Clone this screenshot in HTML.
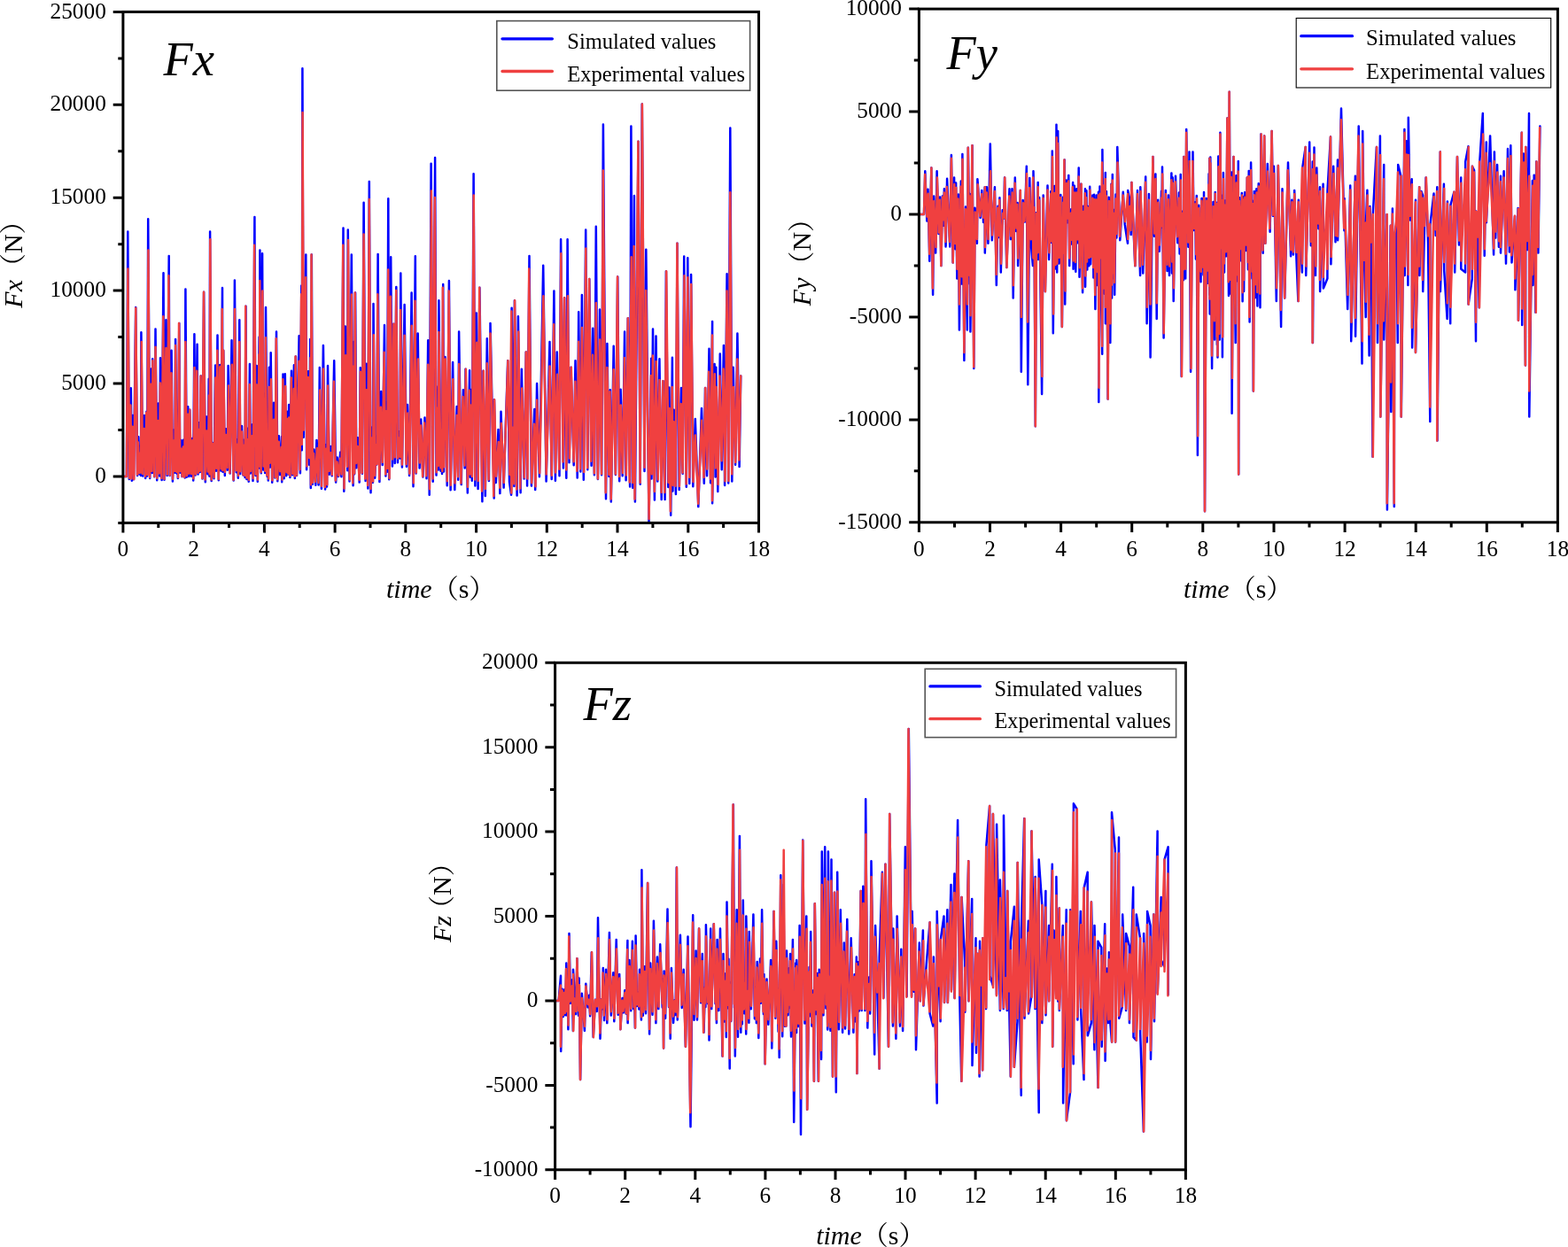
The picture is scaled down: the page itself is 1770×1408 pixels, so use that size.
<!DOCTYPE html><html><head><meta charset="utf-8"><title>Fx Fy Fz</title><style>html,body{margin:0;padding:0;background:#fff;overflow:hidden}svg{display:block}</style></head><body>
<svg width="1770" height="1408" viewBox="0 0 1770 1408">
<rect width="1770" height="1408" fill="#fff"/>
<clipPath id="clipx"><rect x="138.9" y="13.4" width="717.6" height="577.0"/></clipPath>
<g clip-path="url(#clipx)" fill="none" stroke-linejoin="round" stroke-linecap="round">
<path stroke="#0000FF" stroke-width="2.5" d="M138.9 537.9L142.9 537.9L144.3 261.4L145.8 541.1L147.8 438.2L148.8 542.7L149.9 469.1L150.9 541.2L153.2 346.9L155.1 536.9L156.2 493.3L157.6 535.5L158.5 503.6L159.0 537.1L159.4 375.3L161.2 537.6L163.0 468.9L164.2 540.0L165.4 464.8L166.2 537.5L167.2 247.2L169.2 539.9L170.7 416.4L171.8 533.9L172.2 405.3L174.2 538.3L175.5 371.5L177.2 542.2L178.7 455.4L180.2 537.5L181.0 404.2L182.6 541.9L184.5 308.2L185.5 541.8L187.4 361.2L188.6 537.1L190.7 289.0L191.6 537.1L193.6 395.7L194.9 543.4L196.6 485.3L197.5 533.8L198.1 383.0L199.7 534.7L200.3 497.8L200.8 540.1L202.3 365.0L203.2 533.7L204.3 496.9L205.6 538.1L206.9 496.8L208.7 539.5L209.4 326.6L210.7 538.8L212.2 459.3L213.2 538.0L214.2 462.8L215.8 537.7L217.0 495.1L218.2 542.4L219.4 377.2L220.6 536.4L222.6 388.8L223.5 535.6L224.6 477.3L225.8 533.1L226.8 424.4L228.5 540.6L230.1 329.7L231.8 544.2L233.0 470.5L234.4 535.3L235.7 427.8L236.4 537.8L237.1 261.4L238.7 542.9L239.9 500.1L241.5 540.2L243.1 412.4L244.0 531.8L245.5 378.4L246.8 542.2L248.1 411.9L249.4 531.6L251.0 324.9L251.5 532.8L252.2 395.7L253.8 536.9L254.9 484.2L256.7 530.7L257.6 412.9L259.7 534.6L261.5 384.2L263.7 542.4L264.9 316.5L266.7 533.2L267.8 496.3L268.8 539.8L270.3 361.2L271.2 535.1L273.0 481.0L274.5 536.4L275.7 496.5L276.6 539.1L277.5 345.8L278.4 541.1L280.4 483.5L280.7 543.7L281.9 411.0L282.7 534.4L284.6 479.6L285.5 543.1L287.4 244.9L288.5 537.0L289.8 412.9L290.8 543.7L292.6 380.4L292.9 528.5L293.4 282.5L294.8 534.2L296.1 286.3L297.1 530.5L299.1 444.3L299.1 534.1L300.0 346.9L301.7 538.0L302.8 478.9L302.8 542.4L303.9 414.8L304.8 527.5L305.7 398.3L307.2 544.8L309.0 454.8L310.4 539.6L312.0 374.6L313.3 543.2L314.9 492.2L316.1 536.1L318.1 493.0L318.2 544.2L319.5 422.5L320.7 540.2L321.8 422.3L323.2 537.3L324.4 464.7L325.6 535.5L326.1 457.0L327.4 539.0L329.0 418.8L330.1 536.3L331.9 412.2L332.8 540.1L333.9 402.6L335.0 536.9L337.6 379.2L338.9 534.3L340.3 322.4L340.8 508.3L341.4 77.3L342.7 493.8L345.3 287.5L346.1 530.3L347.9 419.2L349.1 524.8L350.2 383.0L350.8 550.9L351.8 287.5L352.9 546.8L354.4 507.4L356.3 547.8L357.4 497.1L359.6 547.5L360.8 415.0L362.9 551.7L364.9 389.9L367.1 552.4L368.7 502.1L369.0 549.5L370.0 412.9L371.7 535.7L373.2 504.0L374.7 537.3L377.2 407.2L379.1 544.6L380.7 516.4L382.0 538.1L384.3 510.4L385.4 538.3L387.5 257.6L388.3 554.8L389.8 368.4L392.2 531.3L392.8 259.5L394.5 543.4L396.8 287.5L398.6 548.2L399.9 385.7L400.1 535.3L401.1 330.5L402.3 528.3L403.8 494.3L405.7 544.6L406.8 415.3L408.9 534.8L410.6 228.8L412.6 542.9L413.8 410.7L415.4 551.5L416.8 205.0L418.5 556.3L420.5 482.3L420.9 544.7L421.5 343.1L423.2 539.7L424.7 492.6L425.2 524.4L426.6 287.1L428.4 544.1L430.2 442.0L431.7 525.1L434.0 366.9L435.4 537.6L436.5 454.2L437.0 532.8L438.3 224.2L439.2 541.2L441.2 290.2L442.9 526.4L444.3 365.7L445.7 522.9L447.3 324.0L448.9 522.2L450.8 487.0L451.6 517.4L452.3 308.6L453.9 527.6L456.6 343.9L458.9 526.7L459.9 456.9L462.1 536.9L464.6 330.5L466.5 549.3L468.8 289.3L469.6 534.6L471.7 376.5L473.6 528.4L475.2 473.4L477.4 538.4L479.5 471.4L481.5 540.3L483.2 384.2L484.7 558.7L486.6 184.7L488.7 543.7L491.1 178.1L492.5 536.6L494.7 436.2L494.9 530.4L495.4 339.3L497.5 531.7L498.4 476.1L499.0 535.0L500.2 320.9L501.0 532.6L502.4 403.1L504.7 548.2L506.9 317.0L508.6 553.2L511.1 409.1L513.3 553.0L515.7 459.0L517.2 541.7L518.1 374.6L520.7 547.1L522.9 440.3L524.7 528.5L525.5 416.8L527.8 556.5L530.1 418.2L530.8 538.7L531.0 439.8L532.8 542.8L534.6 196.2L536.4 548.6L537.8 353.5L539.6 552.0L541.4 324.7L544.4 566.2L545.5 418.7L547.8 560.0L549.8 382.2L551.9 543.0L553.5 365.0L557.7 562.5L557.9 451.3L559.8 544.9L562.5 485.0L564.4 557.1L565.5 464.7L568.6 550.6L573.2 407.2L575.0 544.1L577.1 558.7L577.6 347.7L579.6 466.6L580.4 549.1L580.9 339.3L583.6 559.4L584.9 357.3L587.6 556.2L588.8 416.8L591.6 540.5L593.8 397.6L595.1 548.5L597.5 289.0L599.9 548.6L603.3 462.1L604.2 552.9L606.1 432.9L608.9 538.3L613.2 299.8L616.6 543.4L620.5 386.1L622.7 540.9L625.4 328.5L626.9 542.8L628.8 397.6L631.5 537.2L633.1 270.2L635.9 528.4L637.1 336.2L639.3 539.8L640.6 270.2L642.5 522.3L644.5 414.8L647.7 525.3L649.5 407.2L651.7 539.5L653.2 352.3L655.3 532.5L656.9 333.1L658.8 541.7L661.2 259.5L663.3 530.3L665.3 315.1L667.6 525.8L669.2 370.7L670.9 536.2L672.8 255.7L674.9 541.0L677.0 349.6L679.1 536.2L680.9 140.6L684.0 563.3L685.4 388.0L687.4 537.9L688.8 440.3L689.8 566.4L692.7 390.7L694.9 536.0L697.2 312.4L699.2 543.3L700.6 439.8L702.7 537.3L705.1 374.6L706.6 542.2L708.8 359.2L711.1 549.5L712.4 142.5L714.2 550.7L715.9 221.1L716.9 566.4L720.5 159.7L722.7 546.7L724.8 117.6L727.5 532.1L729.3 281.7L732.5 591.3L735.2 404.8L735.5 540.4L737.0 371.5L738.9 564.4L740.5 379.6L742.3 543.5L744.4 405.3L746.7 564.1L748.6 430.2L750.6 564.1L751.9 306.3L754.3 550.1L755.4 437.5L757.2 581.7L758.9 403.8L759.4 554.4L760.8 462.8L762.9 558.0L764.5 274.8L766.7 553.1L769.0 437.9L770.7 534.8L772.2 289.4L774.8 549.7L776.3 291.3L778.3 546.1L780.1 310.1L782.3 549.3L784.8 473.0L788.3 572.1L792.0 460.9L794.8 545.8L796.0 437.9L798.0 537.2L800.5 393.8L802.1 545.3L804.1 363.1L804.1 568.3L806.6 410.9L807.6 538.6L808.3 414.8L810.3 555.1L812.8 399.5L814.7 530.2L816.9 389.9L818.1 548.0L820.6 309.3L822.2 545.6L824.3 144.4L826.3 543.4L827.7 414.8L830.1 524.7L832.4 376.5L834.6 526.9L836.2 424.4"/>
<path stroke="#F04040" stroke-width="2.5" d="M138.9 537.9L142.9 537.9L144.4 303.6L146.1 539.7L147.4 457.5L148.5 540.4L149.6 481.8L151.3 541.1L153.3 347.7L155.0 535.7L156.0 499.6L157.2 534.1L158.5 511.6L159.1 533.6L159.8 386.1L160.9 535.1L162.6 484.0L163.9 537.8L165.3 466.1L166.4 536.0L167.4 282.5L169.0 538.7L170.4 433.7L171.4 532.0L172.4 407.2L174.2 537.9L175.5 391.8L177.2 539.7L178.4 474.9L179.8 534.5L180.9 432.5L182.4 540.1L184.3 357.3L185.4 540.8L187.4 393.0L188.8 535.4L190.4 311.3L191.9 536.5L193.5 421.3L195.0 540.7L196.6 497.3L197.4 531.8L198.1 389.9L199.4 532.8L200.5 503.6L201.2 539.1L202.0 365.0L203.3 531.9L204.5 506.7L205.7 538.0L206.8 504.5L208.3 538.8L209.3 386.1L210.9 537.1L212.2 467.8L213.3 534.8L214.2 462.8L215.9 534.9L217.2 497.5L218.3 540.3L219.5 415.0L220.9 535.6L222.3 418.7L223.6 533.7L224.9 484.8L225.7 531.8L226.5 424.4L228.3 539.9L230.0 329.7L231.6 541.4L233.1 486.4L234.7 532.5L235.9 446.5L236.6 535.2L237.3 270.2L238.7 541.6L240.1 500.7L241.8 539.0L243.3 426.6L244.3 528.7L245.3 395.7L246.7 541.1L248.3 414.2L249.5 529.2L250.7 349.1L251.4 531.0L252.2 395.7L253.9 533.0L255.1 491.1L256.6 528.0L258.0 435.4L259.4 534.1L261.8 411.8L263.5 541.7L265.0 349.1L266.5 531.3L267.7 502.0L269.1 537.0L270.3 386.1L271.5 532.3L273.2 487.5L274.6 536.2L275.9 502.5L276.5 536.8L277.2 345.8L278.5 539.6L280.1 496.0L280.9 541.8L281.7 433.9L282.9 531.9L284.5 492.2L285.8 540.1L287.1 276.7L288.7 535.6L289.8 434.4L290.9 541.4L292.4 400.2L292.8 526.6L293.3 317.0L294.6 533.1L296.3 328.5L297.5 526.6L298.8 450.5L299.3 531.7L299.8 381.3L301.3 536.5L302.7 486.8L303.1 540.4L303.6 437.0L304.7 522.7L305.9 428.3L307.4 542.3L309.0 473.8L310.7 538.8L311.7 382.2L313.1 541.2L314.7 498.7L316.2 532.2L317.7 504.8L318.5 541.4L319.3 428.3L320.9 537.3L322.2 436.0L323.5 533.2L324.6 473.0L325.4 534.8L326.2 471.6L327.4 537.2L328.9 426.5L330.3 535.1L331.8 439.0L332.7 537.8L333.5 402.6L335.0 536.5L337.4 407.8L338.5 530.3L340.1 332.3L340.8 501.8L341.6 127.1L343.0 485.5L345.1 313.2L346.4 526.6L347.9 426.1L349.1 516.9L350.5 403.9L351.0 547.3L351.5 287.5L352.9 544.7L354.1 511.9L356.0 543.9L357.8 506.1L359.5 544.9L361.2 440.4L363.0 548.8L365.0 416.6L366.7 550.0L368.6 506.6L369.3 547.3L370.0 435.4L371.7 532.1L373.4 511.3L374.8 536.0L376.9 430.7L378.7 542.6L380.5 521.6L382.3 537.3L384.0 517.7L385.5 535.4L387.2 276.7L388.5 551.4L390.1 401.2L391.9 526.7L393.0 271.0L394.8 541.5L396.8 332.6L398.2 545.2L399.6 413.5L400.1 534.5L400.7 330.5L402.1 523.0L403.5 503.9L405.6 541.7L406.9 419.8L408.6 533.9L410.6 264.5L412.3 540.6L413.8 440.3L415.1 547.9L416.8 225.0L418.5 552.0L420.4 494.3L421.1 543.5L421.8 378.2L423.1 536.7L424.4 501.9L425.4 524.0L426.3 332.3L428.1 540.9L429.9 459.7L431.7 522.0L433.6 397.7L435.2 535.6L436.5 464.0L437.4 528.8L438.2 304.4L439.6 540.0L440.9 334.8L443.0 518.5L444.4 365.7L445.7 516.2L447.2 328.1L448.9 517.6L450.8 494.2L451.5 516.0L452.1 349.9L453.9 524.6L456.6 378.8L458.6 524.2L460.3 466.6L462.4 534.8L464.7 367.8L466.8 545.3L468.5 339.7L469.9 533.6L472.0 405.6L473.7 522.6L475.2 480.5L477.1 538.0L479.1 477.5L481.2 537.3L483.1 411.8L485.0 552.2L486.9 215.4L488.6 540.5L490.8 223.1L492.7 533.3L494.3 460.6L494.8 526.1L495.4 375.0L497.4 528.2L498.7 485.6L499.3 531.9L499.8 324.7L501.2 527.2L502.7 405.6L504.8 543.2L506.7 328.5L508.8 547.8L511.3 428.3L513.5 545.5L515.7 469.1L517.0 538.3L518.2 411.0L520.4 545.4L522.5 447.9L524.4 525.5L525.9 416.8L527.9 549.8L529.7 440.8L530.5 535.6L531.3 457.5L532.9 538.1L534.7 220.4L536.2 541.4L538.2 386.7L539.7 543.0L541.2 324.7L544.0 554.5L545.8 418.7L547.8 552.1L549.7 410.3L551.6 541.5L553.5 376.5L557.3 560.1L558.1 451.3L560.1 537.7L562.8 498.9L564.3 550.8L565.8 477.9L568.7 545.0L573.4 407.2L575.4 535.9L577.3 351.5L577.3 556.6L579.3 482.6L580.2 546.3L581.1 339.3L583.2 552.5L585.3 374.6L587.2 551.4L589.2 438.6L591.8 539.2L593.8 397.6L595.5 540.6L597.2 303.6L600.2 545.2L603.0 478.7L604.5 549.3L606.1 451.8L609.2 534.2L613.4 334.3L616.6 535.5L620.6 413.4L622.8 536.7L625.2 366.2L627.1 533.5L629.1 422.8L631.3 529.8L633.3 286.3L635.5 521.4L637.1 336.2L639.3 530.4L640.9 334.3L642.9 517.4L644.8 414.8L647.6 521.2L649.4 430.7L651.3 531.8L653.2 385.7L655.1 529.6L657.0 370.0L659.2 533.1L661.3 280.6L663.2 528.3L665.1 315.1L667.2 520.8L669.0 400.8L670.9 534.3L672.8 342.0L674.9 540.6L677.0 383.5L679.0 535.0L680.8 192.4L683.7 556.3L685.4 415.0L687.4 535.7L688.5 442.2L689.7 563.5L692.7 417.2L694.8 535.3L697.0 312.4L699.1 537.9L700.8 457.5L702.9 534.0L705.0 404.0L706.9 536.5L708.8 359.2L710.7 544.4L712.7 290.2L714.2 544.9L715.7 278.1L716.5 563.5L720.4 159.7L722.6 545.1L724.9 117.6L727.5 527.8L729.2 327.9L732.6 586.0L734.9 424.3L735.9 535.3L736.8 401.5L738.8 555.0L740.7 408.1L742.7 541.5L744.5 429.1L746.6 555.9L748.3 430.2L750.3 556.1L752.2 306.3L754.6 544.8L755.7 461.0L756.8 577.3L758.7 437.0L759.7 547.9L760.6 476.3L762.5 548.8L764.4 274.8L766.9 549.0L768.7 455.9L770.6 533.8L772.5 311.3L774.6 546.5L776.3 313.2L778.3 539.0L780.2 320.9L782.5 544.1L784.9 491.5L788.2 568.7L792.1 474.7L794.5 539.0L796.3 437.9L798.2 529.6L800.1 419.7L802.0 540.4L804.0 378.4L804.0 565.2L806.8 422.3L807.7 528.4L808.6 437.0L810.6 547.1L812.4 424.4L814.5 520.3L816.6 416.6L818.5 543.3L820.5 328.5L822.4 542.9L824.3 217.3L826.2 535.2L828.1 437.0L830.2 522.0L832.3 405.6L834.3 519.5L836.2 424.4"/>
</g>
<rect x="138.9" y="13.4" width="717.6" height="577.0" fill="none" stroke="#000" stroke-width="3"/>
<path d="M127.7 537.9H138.9M127.7 433.0H138.9M127.7 328.1H138.9M127.7 223.2H138.9M127.7 118.3H138.9M127.7 13.4H138.9M133.3 590.4H138.9M133.3 485.5H138.9M133.3 380.6H138.9M133.3 275.7H138.9M133.3 170.8H138.9M133.3 65.9H138.9M138.9 590.4V601.6M178.8 590.4V596.0M218.6 590.4V601.6M258.5 590.4V596.0M298.4 590.4V601.6M338.2 590.4V596.0M378.1 590.4V601.6M418.0 590.4V596.0M457.8 590.4V601.6M497.7 590.4V596.0M537.6 590.4V601.6M577.4 590.4V596.0M617.3 590.4V601.6M657.2 590.4V596.0M697.0 590.4V601.6M736.9 590.4V596.0M776.8 590.4V601.6M816.6 590.4V596.0M856.5 590.4V601.6" stroke="#000" stroke-width="3" fill="none"/>
<g font-family='"Liberation Serif", "Noto Serif CJK SC", serif' font-size="25.3" fill="#000">
<text x="119.8" y="545.0" text-anchor="end">0</text>
<text x="119.8" y="440.1" text-anchor="end">5000</text>
<text x="119.8" y="335.2" text-anchor="end">10000</text>
<text x="119.8" y="230.3" text-anchor="end">15000</text>
<text x="119.8" y="125.4" text-anchor="end">20000</text>
<text x="119.8" y="20.5" text-anchor="end">25000</text>
<text x="138.9" y="628.2" text-anchor="middle">0</text>
<text x="218.6" y="628.2" text-anchor="middle">2</text>
<text x="298.4" y="628.2" text-anchor="middle">4</text>
<text x="378.1" y="628.2" text-anchor="middle">6</text>
<text x="457.8" y="628.2" text-anchor="middle">8</text>
<text x="537.6" y="628.2" text-anchor="middle">10</text>
<text x="617.3" y="628.2" text-anchor="middle">12</text>
<text x="697.0" y="628.2" text-anchor="middle">14</text>
<text x="776.8" y="628.2" text-anchor="middle">16</text>
<text x="856.5" y="628.2" text-anchor="middle">18</text>
</g>
<text x="184.5" y="84.8" font-family='"Liberation Serif", "Noto Serif CJK SC", serif' font-style="italic" font-size="54.5">Fx</text>
<rect x="560.8" y="23.6" width="285.8" height="78.6" fill="#fff" stroke="#555" stroke-width="1.6"/>
<path d="M567.0 43.8H623.4" stroke="#0000FF" stroke-width="3.3" stroke-linecap="round"/>
<path d="M567.0 80.5H623.4" stroke="#EF4040" stroke-width="3.3" stroke-linecap="round"/>
<g font-family='"Liberation Serif", "Noto Serif CJK SC", serif' font-size="24.5"><text x="640.3" y="54.8">Simulated values</text><text x="640.3" y="91.7">Experimental values</text></g>
<text transform="translate(25.0 347.7) rotate(-90)" font-family='"Liberation Serif", "Noto Serif CJK SC", serif' font-size="30"><tspan font-style="italic">Fx</tspan><tspan dx="0">（N）</tspan></text>
<text x="436.0" y="674.8" font-family='"Liberation Serif", "Noto Serif CJK SC", serif' font-size="30"><tspan font-style="italic">time</tspan>（s）</text>
<clipPath id="clipy"><rect x="1037.4" y="10.1" width="721.0" height="579.7"/></clipPath>
<g clip-path="url(#clipy)" fill="none" stroke-linejoin="round" stroke-linecap="round">
<path stroke="#0000FF" stroke-width="2.5" d="M1037.4 242.0L1043.0 242.0L1044.3 193.2L1046.3 249.5L1047.5 213.7L1049.3 294.7L1051.3 189.6L1053.1 332.7L1054.2 221.6L1056.2 285.6L1057.6 193.2L1059.5 263.9L1061.0 222.6L1062.4 300.1L1063.8 221.4L1064.9 254.8L1065.9 213.2L1067.6 278.4L1069.1 201.7L1072.3 278.4L1073.9 175.1L1075.7 296.5L1077.1 200.4L1078.4 281.3L1079.1 206.6L1080.3 314.6L1081.9 219.6L1082.9 372.6L1084.8 204.5L1085.6 320.4L1086.4 174.0L1088.4 407.0L1090.0 233.6L1091.8 372.6L1092.9 166.8L1094.8 320.8L1094.8 219.0L1095.4 374.4L1097.6 164.3L1099.3 416.1L1100.5 234.7L1102.9 274.8L1103.4 202.3L1106.6 245.9L1108.3 215.0L1110.1 251.0L1111.7 211.3L1111.8 285.6L1113.9 211.3L1115.4 274.8L1117.8 162.4L1119.8 271.3L1122.9 211.3L1124.8 321.9L1126.5 232.8L1127.3 268.1L1128.4 223.3L1129.8 307.4L1131.7 237.3L1133.3 246.4L1134.0 200.5L1136.3 301.9L1139.5 213.3L1140.8 270.1L1142.5 213.2L1143.7 336.4L1145.8 200.5L1147.1 261.0L1148.6 229.1L1149.1 300.1L1151.8 215.0L1152.8 419.7L1154.7 226.0L1156.8 250.6L1158.8 187.8L1160.3 434.2L1162.3 201.0L1163.8 275.2L1165.9 300.1L1166.5 193.2L1167.3 230.5L1168.8 481.3L1169.9 240.2L1171.1 260.9L1171.7 205.9L1171.9 292.9L1173.2 223.0L1176.1 445.1L1177.7 220.4L1179.8 329.1L1182.5 209.5L1184.1 292.9L1186.3 215.9L1187.1 274.1L1187.8 170.4L1188.8 376.2L1190.4 209.9L1191.8 303.4L1192.5 140.7L1193.2 307.4L1194.2 148.0L1195.6 297.4L1197.3 219.9L1198.9 369.0L1200.2 222.4L1200.5 290.7L1201.7 180.6L1202.2 343.6L1203.8 203.6L1204.8 251.2L1206.3 197.9L1207.2 300.1L1209.2 236.2L1210.2 275.6L1211.1 205.9L1211.6 303.8L1212.8 209.7L1214.3 306.8L1215.3 213.2L1216.3 274.3L1217.7 189.6L1218.5 312.8L1220.3 207.7L1222.1 330.3L1223.1 232.7L1224.5 266.7L1225.0 213.2L1225.1 323.7L1226.4 215.2L1227.3 304.6L1227.9 233.1L1229.3 300.2L1230.2 210.8L1231.1 298.3L1233.4 220.4L1234.4 313.5L1235.1 219.7L1236.4 349.0L1237.8 220.5L1238.8 321.9L1240.0 216.8L1240.3 454.1L1241.5 210.6L1242.5 303.4L1244.2 399.8L1244.4 169.0L1244.7 200.9L1246.8 331.8L1247.8 195.0L1247.9 365.3L1248.9 216.1L1250.6 450.5L1251.7 222.8L1253.3 387.1L1254.5 207.8L1255.1 336.4L1255.8 196.9L1257.1 314.3L1257.3 236.7L1258.2 332.7L1259.6 219.5L1260.4 268.5L1261.3 166.1L1264.3 271.2L1267.8 216.8L1269.7 253.4L1273.0 274.8L1273.2 215.0L1275.5 227.3L1276.7 264.9L1277.3 205.9L1281.3 300.1L1284.0 215.0L1287.1 311.0L1287.3 211.3L1290.2 308.5L1293.2 199.4L1294.6 365.3L1296.9 219.0L1298.6 403.4L1301.5 176.9L1303.0 266.8L1304.4 196.4L1305.7 359.9L1307.2 225.8L1308.8 283.8L1311.0 215.8L1311.4 256.9L1312.0 188.5L1313.6 381.6L1315.8 215.0L1317.6 306.0L1319.0 220.5L1320.0 311.0L1322.4 195.4L1323.0 308.5L1323.7 200.5L1324.7 340.0L1327.0 198.7L1329.3 274.2L1330.9 217.5L1331.6 286.4L1332.7 196.9L1333.7 425.1L1335.2 238.5L1335.9 316.3L1336.2 176.9L1338.2 314.6L1339.2 146.1L1341.4 278.8L1342.5 171.5L1344.1 419.7L1346.5 171.5L1347.6 260.0L1349.2 228.2L1349.9 292.4L1350.8 221.1L1351.9 513.9L1353.3 231.7L1355.5 318.2L1356.5 224.0L1358.5 310.4L1359.0 217.1L1360.0 577.3L1361.8 224.0L1363.4 319.7L1364.6 196.3L1365.3 332.9L1365.3 178.7L1365.7 354.5L1366.3 177.4L1368.1 416.1L1369.5 228.1L1371.0 383.4L1371.7 217.0L1372.0 287.4L1372.4 234.9L1373.9 389.2L1374.3 228.4L1374.5 403.4L1375.3 176.5L1376.7 383.4L1377.4 149.8L1378.3 282.1L1379.3 221.0L1379.9 403.3L1380.9 195.0L1382.0 307.4L1383.0 226.4L1384.3 289.2L1385.4 133.5L1387.0 334.0L1387.8 103.8L1388.8 331.6L1390.1 194.4L1390.6 466.8L1392.4 176.9L1394.7 387.1L1395.4 198.2L1397.2 317.4L1397.8 181.9L1398.2 535.6L1398.9 222.9L1400.7 294.3L1401.8 218.0L1402.6 340.3L1403.3 222.2L1404.1 329.1L1405.1 217.3L1406.9 282.9L1407.9 200.5L1408.9 304.2L1409.7 192.9L1410.6 363.5L1412.1 183.5L1413.7 314.6L1414.2 227.0L1414.8 441.4L1415.8 215.9L1416.8 336.2L1418.3 213.2L1419.4 345.4L1420.7 207.2L1422.5 347.2L1423.4 151.6L1425.7 285.8L1427.1 153.4L1428.3 274.8L1430.8 184.9L1433.6 261.7L1435.7 148.0L1436.9 243.7L1438.0 187.8L1440.8 340.0L1442.8 187.1L1446.1 369.0L1447.5 213.2L1450.2 336.4L1454.0 183.5L1457.1 289.3L1458.3 225.8L1459.9 287.5L1461.2 215.0L1463.4 290.7L1465.4 340.0L1465.8 225.8L1469.9 307.4L1470.2 189.6L1473.7 166.1L1474.2 311.0L1478.2 160.6L1479.8 277.3L1481.8 182.4L1481.9 387.1L1483.5 166.4L1485.0 311.0L1486.3 189.6L1488.4 258.2L1490.0 211.3L1490.1 329.1L1493.6 207.7L1493.9 325.5L1498.4 314.6L1498.5 215.0L1502.0 154.5L1502.4 298.3L1505.2 187.8L1507.5 273.2L1510.0 180.6L1510.1 271.2L1514.0 122.6L1517.4 260.3L1517.6 224.0L1521.2 349.0L1524.2 209.5L1525.2 385.3L1529.9 198.7L1530.1 379.8L1533.7 142.5L1537.5 410.6L1538.2 148.0L1540.1 298.5L1541.7 358.1L1541.9 253.0L1543.4 214.8L1545.6 401.6L1546.4 233.1L1548.1 282.9L1549.5 515.7L1549.8 242.2L1553.9 166.1L1555.0 387.1L1557.9 153.4L1558.3 470.4L1562.2 186.0L1562.2 383.4L1565.5 242.2L1565.9 575.5L1569.7 254.8L1570.3 465.0L1571.9 235.5L1573.8 571.9L1574.2 267.5L1576.3 253.4L1577.8 387.1L1578.2 186.0L1581.4 198.7L1581.8 470.4L1585.4 146.1L1585.7 311.0L1587.8 159.3L1589.4 321.9L1589.8 132.7L1591.8 248.5L1593.7 202.3L1594.1 392.5L1598.0 225.8L1598.0 397.9L1602.1 211.3L1602.4 311.0L1604.4 215.9L1606.0 220.4L1606.2 329.1L1608.0 257.0L1609.6 200.5L1612.0 273.7L1614.3 475.9L1614.3 254.8L1618.5 218.6L1620.7 266.0L1622.3 211.3L1622.5 497.6L1625.8 171.5L1625.9 329.1L1629.9 207.7L1630.2 305.6L1633.6 359.9L1633.9 227.6L1637.2 365.3L1637.5 231.3L1641.4 216.8L1642.2 307.4L1645.0 176.9L1647.0 276.4L1649.2 200.5L1649.3 303.8L1654.1 307.4L1654.2 182.4L1657.5 165.3L1657.6 343.6L1661.8 314.6L1661.9 187.8L1664.1 192.3L1666.0 385.3L1666.3 238.5L1667.9 274.3L1669.7 347.2L1670.3 182.4L1673.8 128.0L1675.7 288.7L1677.8 160.6L1677.9 251.2L1682.1 153.4L1686.1 287.5L1686.9 171.5L1688.2 268.6L1690.1 186.0L1691.9 278.8L1694.0 198.7L1694.0 285.6L1697.6 193.2L1700.0 297.6L1702.0 167.9L1703.9 284.5L1705.3 164.3L1706.5 296.5L1710.1 244.0L1710.4 327.3L1713.6 234.9L1714.0 361.7L1717.8 149.8L1718.2 367.1L1719.9 173.5L1722.0 412.4L1722.4 166.1L1724.3 281.9L1726.0 128.0L1726.3 470.4L1729.9 204.1L1730.3 321.9L1731.7 197.7L1733.4 352.7L1734.2 182.4L1736.4 285.6L1738.4 142.5"/>
<path stroke="#F04040" stroke-width="2.5" d="M1037.4 242.0L1043.0 242.0L1044.1 196.9L1046.4 244.6L1047.8 218.7L1049.2 286.8L1051.4 189.6L1052.8 325.5L1054.3 227.0L1056.5 279.1L1057.9 200.5L1059.8 262.6L1061.0 225.8L1062.3 300.1L1064.1 222.5L1065.0 248.3L1065.9 217.5L1067.3 272.9L1068.8 210.9L1072.0 272.9L1073.9 178.7L1075.7 296.5L1077.3 207.9L1078.3 275.1L1079.3 212.0L1080.4 303.7L1081.6 224.6L1082.9 343.6L1084.6 210.7L1085.6 312.3L1086.5 179.8L1088.4 397.9L1089.9 236.2L1092.0 343.6L1092.7 166.8L1094.5 310.9L1095.0 221.5L1095.6 356.3L1097.4 164.3L1099.2 414.3L1100.7 239.4L1102.9 269.9L1103.6 208.3L1106.3 244.0L1108.3 219.0L1110.1 245.7L1111.9 211.3L1111.9 279.1L1113.9 217.5L1115.5 269.9L1118.0 193.2L1120.0 265.4L1122.8 215.9L1124.6 309.9L1126.3 234.9L1127.2 266.0L1128.2 226.1L1130.0 297.6L1131.9 241.0L1133.1 245.9L1134.3 200.5L1136.5 301.9L1139.3 221.4L1141.0 266.5L1142.7 217.5L1143.8 322.2L1145.6 206.7L1147.4 257.6L1148.3 231.0L1149.2 291.4L1151.8 215.0L1152.8 358.1L1155.0 229.3L1156.5 249.7L1159.0 195.9L1160.1 363.5L1162.1 212.3L1163.8 270.3L1166.2 200.5L1166.2 291.4L1167.5 234.2L1168.8 481.3L1170.2 240.9L1170.9 259.5L1171.7 211.3L1171.7 285.2L1173.3 226.3L1176.4 425.1L1177.5 223.7L1180.0 329.1L1182.5 214.4L1184.4 285.2L1186.3 218.9L1187.1 272.4L1188.0 176.9L1189.1 354.5L1190.5 217.9L1191.6 299.0L1192.7 155.2L1193.4 297.6L1194.1 162.1L1195.6 290.7L1197.1 222.9L1198.8 369.0L1200.0 228.8L1200.7 285.7L1201.4 180.6L1202.5 328.4L1204.0 207.0L1205.1 246.6L1206.1 204.6L1207.2 291.4L1208.9 240.8L1209.9 270.8L1210.8 211.3L1211.5 294.5L1212.9 217.6L1214.0 296.0L1215.1 217.5L1216.5 270.3L1217.6 199.4L1218.8 302.2L1220.6 207.7L1222.0 325.5L1223.0 239.0L1224.3 264.0L1224.8 218.3L1225.3 311.4L1226.2 223.2L1227.0 295.5L1227.8 234.4L1229.3 291.0L1230.4 214.8L1231.4 289.9L1233.3 223.7L1234.1 301.9L1235.3 225.2L1236.2 333.0L1237.5 225.5L1238.9 307.0L1239.8 220.6L1240.5 437.8L1241.6 218.8L1242.5 291.3L1244.1 183.5L1244.1 390.7L1245.0 209.2L1246.5 325.4L1247.7 202.1L1247.7 346.8L1249.1 221.6L1250.7 450.5L1251.9 226.9L1253.5 365.3L1254.5 208.4L1255.1 321.5L1255.7 203.6L1256.9 308.3L1257.4 241.1L1257.9 319.1L1259.5 224.6L1260.5 263.9L1261.5 183.5L1264.0 266.8L1267.7 220.6L1270.0 250.2L1273.1 219.0L1273.1 269.9L1275.5 233.1L1276.5 260.0L1277.5 205.9L1281.4 300.1L1284.0 219.0L1286.9 300.6L1287.6 215.9L1289.9 298.8L1293.0 205.8L1294.8 346.8L1296.8 225.7L1298.5 343.6L1301.4 176.9L1303.0 263.5L1304.5 202.0L1305.7 342.2L1307.3 228.7L1308.8 276.6L1311.0 223.5L1311.6 255.2L1312.2 196.6L1313.7 376.2L1315.9 219.0L1317.5 298.7L1318.9 225.3L1320.2 300.6L1322.4 203.3L1323.1 295.4L1323.8 206.7L1324.9 325.3L1326.7 205.2L1329.0 267.2L1330.7 223.7L1331.8 278.8L1332.9 203.6L1334.0 425.1L1335.4 240.7L1335.9 304.2L1336.5 176.9L1338.3 303.7L1339.1 149.8L1341.2 273.4L1342.7 182.1L1344.5 416.1L1346.3 182.1L1347.6 257.8L1349.3 230.4L1350.2 287.2L1351.0 224.3L1352.1 492.2L1353.4 235.3L1355.7 306.8L1356.4 226.7L1358.3 301.9L1359.2 223.2L1360.0 577.3L1361.9 226.7L1363.1 305.6L1364.4 208.6L1365.0 323.1L1365.5 178.7L1365.5 337.6L1366.4 184.3L1368.0 401.6L1369.5 233.2L1370.9 362.2L1371.8 218.7L1372.3 276.9L1372.7 236.0L1373.6 379.8L1374.1 229.9L1374.5 401.6L1375.5 188.3L1376.5 376.8L1377.4 151.6L1378.4 280.0L1379.2 225.9L1380.2 380.5L1381.1 202.1L1381.8 297.6L1382.8 231.7L1384.0 284.2L1385.4 133.5L1386.7 318.3L1387.6 103.8L1388.8 315.7L1389.8 200.1L1390.9 426.9L1392.7 176.9L1394.5 365.3L1395.6 206.4L1397.2 310.6L1397.7 193.4L1398.1 535.6L1399.1 226.9L1400.6 281.1L1402.1 220.5L1402.5 330.2L1403.0 225.2L1404.1 316.0L1405.2 222.7L1406.6 276.5L1407.7 200.5L1408.7 296.1L1409.5 199.1L1410.3 358.1L1412.1 192.2L1413.5 306.7L1414.2 230.2L1415.0 441.4L1415.9 220.2L1416.9 321.3L1418.6 217.5L1419.3 329.9L1420.8 210.4L1422.2 331.4L1423.7 151.6L1425.5 282.4L1427.3 153.4L1428.4 274.8L1430.9 193.5L1433.3 257.9L1435.6 148.0L1436.9 242.8L1438.2 195.9L1441.0 325.3L1442.9 187.1L1445.8 349.9L1447.6 217.5L1450.1 336.4L1453.7 192.2L1457.3 282.2L1458.5 228.3L1459.9 284.5L1461.3 219.0L1463.5 284.9L1465.7 228.3L1465.7 340.0L1470.0 189.6L1470.0 297.6L1473.6 166.1L1474.4 300.6L1478.0 172.8L1479.8 272.8L1481.6 191.3L1481.6 387.1L1483.4 174.5L1485.3 300.6L1486.3 197.5L1488.1 252.4L1489.9 215.9L1489.9 316.0L1493.6 212.9L1493.6 313.0L1498.3 219.0L1498.3 303.7L1501.9 154.5L1502.6 289.9L1505.5 195.9L1507.7 266.1L1509.9 189.8L1509.9 266.8L1513.9 135.3L1517.1 257.5L1517.9 226.7L1521.5 333.0L1524.4 214.4L1525.5 363.8L1529.8 205.2L1529.8 359.1L1533.4 153.4L1537.8 385.3L1538.1 162.4L1540.0 293.7L1541.8 251.4L1541.8 340.7L1543.6 220.4L1545.4 377.7L1546.1 234.4L1547.9 273.5L1549.8 242.1L1549.8 515.7L1554.1 166.1L1555.2 365.3L1558.1 175.1L1558.4 470.4L1562.0 202.3L1562.0 362.2L1565.7 242.1L1565.7 568.2L1570.0 254.8L1570.0 431.5L1571.8 241.4L1573.7 568.2L1574.4 263.7L1576.2 249.1L1578.0 194.4L1578.0 365.3L1581.6 198.7L1581.6 470.4L1585.6 149.8L1586.0 300.6L1587.8 174.4L1589.6 309.9L1590.0 175.1L1591.9 243.8L1593.9 208.3L1593.9 369.9L1597.9 228.3L1597.9 397.9L1602.3 211.3L1602.3 300.6L1604.1 216.9L1605.9 316.0L1606.3 223.7L1608.1 255.0L1609.9 200.5L1612.1 266.4L1614.2 252.9L1614.2 459.6L1618.6 222.1L1620.4 259.3L1622.2 215.9L1622.2 497.6L1625.8 171.5L1625.8 316.0L1630.2 212.9L1630.2 296.0L1633.8 229.8L1633.8 342.2L1637.4 232.9L1637.4 346.8L1641.4 216.8L1642.1 297.6L1645.0 176.9L1647.2 271.6L1649.4 206.7L1649.4 294.5L1654.1 191.3L1654.1 297.6L1657.7 166.1L1657.7 343.6L1662.1 187.8L1662.1 303.7L1664.0 194.4L1666.0 363.8L1666.4 239.0L1668.2 267.4L1670.0 182.4L1670.0 347.2L1674.0 151.6L1675.8 281.3L1677.6 172.8L1677.6 249.8L1682.0 184.2L1686.3 280.6L1686.7 182.1L1688.5 261.5L1690.3 194.4L1692.1 272.3L1693.9 205.2L1693.9 279.1L1697.6 200.5L1699.7 286.6L1701.9 179.0L1703.7 277.5L1705.5 175.9L1706.2 288.3L1709.9 243.7L1710.2 314.5L1713.9 236.0L1713.9 361.7L1717.8 149.8L1718.2 348.4L1720.0 183.5L1721.8 412.4L1722.2 166.1L1724.2 272.0L1726.2 198.7L1726.2 441.4L1730.2 209.8L1730.2 309.9L1732.0 204.0L1733.8 352.7L1734.5 182.4L1736.3 279.1L1738.1 144.3"/>
</g>
<rect x="1037.4" y="10.1" width="721.0" height="579.7" fill="none" stroke="#000" stroke-width="3"/>
<path d="M1026.2 589.8H1037.4M1026.2 473.9H1037.4M1026.2 357.9H1037.4M1026.2 242.0H1037.4M1026.2 126.0H1037.4M1026.2 10.1H1037.4M1031.8 531.8H1037.4M1031.8 415.9H1037.4M1031.8 299.9H1037.4M1031.8 184.0H1037.4M1031.8 68.1H1037.4M1037.4 589.8V601.0M1077.5 589.8V595.4M1117.5 589.8V601.0M1157.6 589.8V595.4M1197.6 589.8V601.0M1237.7 589.8V595.4M1277.7 589.8V601.0M1317.8 589.8V595.4M1357.8 589.8V601.0M1397.9 589.8V595.4M1438.0 589.8V601.0M1478.0 589.8V595.4M1518.1 589.8V601.0M1558.1 589.8V595.4M1598.2 589.8V601.0M1638.2 589.8V595.4M1678.3 589.8V601.0M1718.3 589.8V595.4M1758.4 589.8V601.0" stroke="#000" stroke-width="3" fill="none"/>
<g font-family='"Liberation Serif", "Noto Serif CJK SC", serif' font-size="25.3" fill="#000">
<text x="1017.9" y="596.9" text-anchor="end">-15000</text>
<text x="1017.9" y="481.0" text-anchor="end">-10000</text>
<text x="1017.9" y="365.0" text-anchor="end">-5000</text>
<text x="1017.9" y="249.1" text-anchor="end">0</text>
<text x="1017.9" y="133.1" text-anchor="end">5000</text>
<text x="1017.9" y="17.2" text-anchor="end">10000</text>
<text x="1037.4" y="628.1" text-anchor="middle">0</text>
<text x="1117.5" y="628.1" text-anchor="middle">2</text>
<text x="1197.6" y="628.1" text-anchor="middle">4</text>
<text x="1277.7" y="628.1" text-anchor="middle">6</text>
<text x="1357.8" y="628.1" text-anchor="middle">8</text>
<text x="1438.0" y="628.1" text-anchor="middle">10</text>
<text x="1518.1" y="628.1" text-anchor="middle">12</text>
<text x="1598.2" y="628.1" text-anchor="middle">14</text>
<text x="1678.3" y="628.1" text-anchor="middle">16</text>
<text x="1758.4" y="628.1" text-anchor="middle">18</text>
</g>
<text x="1068.5" y="77.7" font-family='"Liberation Serif", "Noto Serif CJK SC", serif' font-style="italic" font-size="54.5">Fy</text>
<rect x="1463.2" y="20.5" width="287.5" height="78.5" fill="#fff" stroke="#000" stroke-width="1.1"/>
<path d="M1468.8 40.7H1526.5" stroke="#0000FF" stroke-width="3.3" stroke-linecap="round"/>
<path d="M1468.8 77.8H1526.5" stroke="#EF4040" stroke-width="3.3" stroke-linecap="round"/>
<g font-family='"Liberation Serif", "Noto Serif CJK SC", serif' font-size="24.7"><text x="1542.1" y="51.2">Simulated values</text><text x="1542.1" y="88.7">Experimental values</text></g>
<text transform="translate(914.6 345.2) rotate(-90)" font-family='"Liberation Serif", "Noto Serif CJK SC", serif' font-size="30"><tspan font-style="italic">Fy</tspan><tspan dx="0">（N）</tspan></text>
<text x="1336.0" y="674.8" font-family='"Liberation Serif", "Noto Serif CJK SC", serif' font-size="30"><tspan font-style="italic">time</tspan>（s）</text>
<clipPath id="clipz"><rect x="626.6" y="748.3" width="711.8" height="572.5"/></clipPath>
<g clip-path="url(#clipz)" fill="none" stroke-linejoin="round" stroke-linecap="round">
<path stroke="#0000FF" stroke-width="2.5" d="M626.6 1130.0L630.6 1130.0L633.0 1101.8L633.2 1187.0L634.6 1116.7L635.8 1147.9L637.2 1117.2L638.2 1146.2L639.3 1087.6L640.4 1146.7L641.1 1113.4L641.4 1162.2L642.5 1053.9L644.0 1132.9L645.6 1106.4L646.7 1151.1L646.9 1164.0L647.0 1094.7L648.7 1122.7L650.1 1145.1L651.4 1082.3L653.1 1146.7L653.7 1104.5L655.1 1219.0L656.8 1121.7L659.9 1164.0L661.3 1110.7L663.5 1137.4L665.1 1123.8L666.1 1147.2L667.8 1075.2L669.7 1171.1L672.0 1128.8L673.8 1142.1L675.0 1036.2L677.5 1172.8L679.0 1128.2L680.0 1139.5L680.8 1093.0L682.1 1152.1L684.0 1094.7L685.3 1155.1L687.9 1052.9L689.8 1146.4L692.3 1098.3L693.3 1153.3L695.7 1061.0L697.7 1145.8L699.2 1100.1L700.4 1162.2L702.5 1127.0L703.7 1143.5L705.3 1118.2L706.6 1144.4L708.4 1062.1L708.6 1155.1L710.5 1084.1L712.2 1141.2L713.9 1062.8L715.3 1139.3L716.0 1112.4L716.9 1160.4L717.6 1056.4L719.0 1136.0L720.8 1120.0L721.3 1139.5L722.0 1094.7L723.9 1151.5L724.4 982.2L725.8 1146.7L727.7 1091.2L729.0 1144.3L731.0 997.1L733.1 1167.5L734.2 1087.6L736.5 1145.8L737.9 1039.7L740.4 1155.1L741.9 1080.5L743.3 1139.1L745.2 1066.3L747.7 1137.4L748.5 1105.0L749.1 1183.5L749.6 1096.5L751.1 1149.7L753.5 1026.6L755.0 1137.1L756.0 1123.4L756.7 1172.8L757.9 1093.0L760.1 1155.0L761.8 1128.9L762.7 1145.9L763.8 979.4L764.7 1151.5L767.9 1055.7L769.7 1137.9L771.7 1094.7L773.9 1181.7L776.5 1057.5L779.5 1272.3L782.2 1033.3L783.5 1151.7L785.6 1073.4L787.0 1151.5L789.0 1048.6L791.1 1132.3L792.8 1077.0L794.5 1165.7L795.9 1114.9L796.4 1137.0L796.9 1044.3L799.1 1133.3L800.0 1119.6L800.5 1174.6L802.2 1048.6L803.2 1139.1L805.7 1043.3L807.5 1133.3L808.0 1110.1L808.9 1155.1L809.6 1061.0L811.4 1141.1L813.0 1048.6L815.5 1192.4L816.5 1077.0L817.9 1153.6L819.4 1099.0L819.8 1170.9L820.5 1018.4L822.2 1138.6L822.5 1082.7L823.7 1206.6L823.9 1108.9L825.2 1153.1L827.8 908.4L829.0 1137.7L829.4 1123.7L829.8 1192.4L831.7 1027.3L833.0 1170.7L834.9 943.9L836.3 1165.7L837.2 1086.1L837.8 1156.2L838.8 1016.6L840.1 1144.3L841.2 1106.8L841.8 1138.1L842.2 1167.5L842.3 1034.4L844.1 1114.0L845.4 1154.7L845.7 1052.1L847.8 1139.3L850.4 1032.6L851.9 1150.2L853.0 1114.4L853.9 1155.1L854.7 1085.9L856.3 1171.9L858.0 1082.6L858.8 1132.8L860.1 1027.3L861.9 1144.9L862.4 1099.9L863.6 1201.2L865.5 1105.4L867.3 1156.7L870.1 1084.1L871.3 1183.5L873.5 1029.1L875.4 1149.7L876.3 1062.8L878.6 1164.8L878.6 1116.3L879.7 1194.1L881.3 988.2L883.2 1170.2L884.4 998.9L885.9 1158.7L887.0 1109.4L887.3 1158.6L888.0 1073.4L889.5 1146.2L890.9 1093.0L890.9 1137.9L892.1 1077.0L893.0 1170.4L894.9 1061.0L896.2 1266.9L898.2 1087.5L899.1 1166.0L899.1 1084.1L901.0 1158.9L902.6 1045.0L904.0 1281.1L906.2 948.5L908.4 1155.4L910.3 1034.4L911.1 1252.7L913.6 1092.1L914.4 1147.3L915.2 1052.1L916.4 1158.4L917.7 1118.6L919.0 1220.8L919.8 1020.2L921.4 1145.1L922.3 1099.1L923.8 1220.8L924.7 1094.7L927.1 1195.9L927.8 961.6L929.5 1146.2L931.2 956.3L932.4 1138.4L933.7 1113.3L934.2 1162.6L934.5 1158.6L934.9 961.6L936.1 1099.0L937.4 1163.8L938.5 970.5L939.9 1215.4L942.1 1007.8L943.8 1233.2L945.2 984.7L946.9 1162.2L948.8 1027.3L951.1 1165.7L952.8 1064.6L954.1 1161.4L956.3 1037.9L958.3 1167.5L960.7 1059.2L963.4 1165.7L964.6 1100.3L965.9 1153.4L966.8 1080.5L967.4 1211.9L968.8 1086.3L969.8 1141.6L971.7 1006.0L972.7 1140.9L974.3 1000.7L976.4 1140.9L977.2 902.3L979.3 1160.6L981.0 1103.6L982.2 1144.5L983.5 972.3L987.2 1190.6L988.1 1045.0L990.4 1123.1L992.7 1206.6L992.7 1080.5L995.9 984.7L997.4 1126.7L999.4 975.8L1002.9 1181.7L1004.2 919.0L1007.9 1158.6L1008.3 1048.6L1011.4 1172.8L1012.6 1034.4L1015.9 1158.6L1017.3 1071.7L1019.1 1164.0L1021.9 956.3L1023.6 1124.9L1025.8 823.1L1029.1 1124.9L1029.7 1029.1L1031.6 1119.8L1033.0 1048.6L1034.0 1185.3L1037.8 1064.6L1038.8 1130.2L1041.9 1050.4L1042.4 1135.6L1045.7 1089.4L1049.6 1041.5L1049.6 1144.4L1053.3 1158.6L1053.9 1080.5L1057.7 1245.6L1057.7 1029.1L1060.0 1116.6L1061.6 1153.3L1061.8 1061.0L1065.5 1034.4L1066.0 1132.0L1069.4 1027.3L1069.8 1132.0L1073.5 998.9L1074.0 1117.8L1077.4 986.5L1077.5 1126.7L1081.1 926.1L1083.3 1127.2L1085.3 1220.8L1085.6 1013.1L1089.1 1085.9L1089.3 1142.7L1093.2 972.3L1093.4 1130.2L1097.2 1014.9L1097.5 1203.0L1101.5 1059.2L1102.0 1188.8L1103.8 1076.8L1105.6 1215.4L1106.0 1062.8L1107.5 1115.9L1109.0 1208.3L1109.4 1059.2L1113.1 1139.1L1113.4 954.5L1117.1 910.1L1117.4 1101.8L1120.8 1112.5L1120.9 919.0L1125.0 1123.1L1125.1 930.7L1128.9 1140.9L1128.9 993.6L1132.8 1139.1L1133.0 920.8L1135.2 1100.7L1136.8 1140.9L1137.2 1006.0L1139.0 1124.3L1140.8 1215.4L1140.9 1062.8L1144.9 1023.7L1144.9 1204.8L1148.5 1153.3L1148.7 974.0L1152.7 1236.7L1152.9 1048.6L1156.2 924.3L1156.5 1149.8L1160.9 1039.7L1161.1 1144.4L1164.4 1124.9L1164.4 938.5L1168.5 1139.1L1168.6 990.0L1172.7 1256.3L1172.7 970.5L1176.3 1022.0L1176.3 1155.1L1180.4 1006.0L1180.5 1146.2L1184.0 1045.0L1184.1 1130.2L1187.8 975.8L1188.2 1181.7L1189.7 1050.5L1192.3 1126.7L1192.4 990.0L1194.2 1130.5L1195.7 1025.5L1195.8 1140.9L1199.8 1045.0L1200.1 1245.6L1203.7 1027.3L1203.9 1265.2L1208.1 1233.2L1208.3 1027.3L1211.7 1201.2L1211.9 907.3L1215.7 913.7L1216.4 1151.5L1219.8 1029.1L1220.1 1139.1L1223.5 1219.0L1223.7 1002.4L1227.7 984.7L1227.8 1169.3L1231.9 1155.1L1232.0 1018.4L1235.4 1185.3L1235.5 1045.0L1239.5 1227.9L1239.5 1062.8L1243.3 1069.9L1243.7 1181.7L1247.2 1043.3L1247.6 1197.7L1249.6 1093.6L1251.1 1155.1L1251.9 1075.2L1253.4 1156.0L1255.0 1176.4L1255.0 917.2L1258.8 959.8L1259.1 1176.4L1263.0 945.6L1263.2 1149.8L1266.7 1137.3L1267.2 1032.6L1271.1 1140.9L1271.1 1053.9L1274.9 1068.1L1274.9 1155.1L1279.2 1001.7L1279.5 1171.1L1282.7 1174.6L1282.8 1032.6L1287.0 1059.2L1287.2 1167.5L1290.9 1277.6L1291.1 1053.9L1294.8 1176.4L1295.1 1029.1L1298.6 1045.0L1299.0 1195.9L1302.2 1032.6L1303.0 1153.3L1306.6 938.5L1306.7 1121.4L1310.7 1013.1L1310.7 1084.1L1314.2 1091.2L1314.5 970.5L1318.6 956.3L1318.7 1123.1"/>
<path stroke="#F04040" stroke-width="2.5" d="M626.6 1130.0L630.6 1130.0L632.9 1112.5L632.9 1181.7L634.6 1118.4L635.8 1145.9L636.9 1121.0L637.9 1143.8L639.0 1094.0L640.4 1142.1L640.9 1117.2L641.5 1157.4L642.2 1057.5L643.7 1130.6L645.8 1113.2L646.5 1145.3L647.2 1100.0L647.2 1164.0L648.5 1127.4L650.2 1141.9L651.4 1082.3L653.0 1141.1L654.0 1112.2L655.0 1219.0L656.9 1126.9L659.9 1158.9L661.4 1113.6L663.4 1134.0L664.9 1128.8L666.3 1145.3L668.1 1075.2L669.9 1171.1L672.0 1129.1L674.1 1136.3L675.2 1059.2L677.3 1166.4L678.9 1128.5L679.7 1137.8L680.5 1098.5L681.8 1146.5L684.1 1100.0L685.5 1151.3L688.0 1061.0L689.8 1142.3L692.2 1103.0L693.3 1149.8L695.8 1071.4L697.5 1143.7L699.3 1104.5L700.4 1162.2L702.2 1129.8L703.5 1141.7L705.4 1121.1L706.8 1144.1L708.2 1072.3L708.9 1151.3L710.7 1091.0L712.2 1138.7L713.9 1072.9L715.5 1137.0L716.3 1115.2L717.1 1160.4L717.4 1067.4L719.0 1134.2L720.5 1121.7L721.1 1136.3L721.7 1100.0L724.2 1148.3L724.6 1002.4L726.2 1142.4L727.8 1097.0L729.1 1140.1L731.3 997.1L733.1 1161.9L734.5 1094.0L736.6 1142.2L738.0 1050.4L740.2 1151.3L742.0 1087.9L743.5 1136.6L745.5 1075.9L747.7 1132.9L748.4 1111.1L749.0 1183.5L749.4 1101.5L750.9 1144.2L753.7 1042.1L755.2 1136.5L755.9 1124.5L756.5 1166.4L757.9 1098.5L759.9 1147.6L761.8 1129.7L762.9 1142.6L764.0 979.4L765.0 1148.3L767.9 1066.8L769.5 1134.8L771.4 1100.0L773.9 1181.7L776.4 1068.3L779.2 1256.3L782.0 1041.5L783.5 1145.1L785.6 1081.9L787.0 1148.3L789.2 1048.6L791.3 1130.9L792.7 1084.9L794.1 1165.7L795.9 1115.2L796.4 1132.4L797.0 1057.2L799.2 1131.6L799.8 1123.3L800.5 1167.9L801.9 1060.8L803.4 1136.2L805.9 1043.3L807.5 1131.5L808.1 1115.0L808.7 1151.3L809.4 1071.4L811.1 1137.1L813.0 1060.8L815.8 1192.4L816.5 1084.9L817.9 1150.4L819.4 1107.5L819.9 1164.2L820.4 1034.4L822.0 1134.7L822.8 1091.4L823.6 1195.1L824.0 1112.1L825.2 1152.4L827.5 908.4L828.7 1133.5L829.3 1125.1L830.0 1183.0L831.4 1042.7L833.2 1161.9L835.0 959.8L836.1 1159.3L837.3 1093.3L837.9 1151.5L838.5 1033.6L839.8 1139.5L841.3 1110.0L841.9 1133.2L842.4 1048.7L842.4 1161.9L844.2 1119.1L845.1 1149.7L846.0 1063.8L848.0 1135.7L850.6 1047.2L852.2 1146.9L853.0 1117.4L853.8 1151.3L854.5 1092.5L856.3 1166.4L857.8 1088.7L859.1 1130.8L860.2 1042.7L861.6 1142.3L862.7 1105.1L863.7 1201.2L865.5 1109.1L867.4 1151.2L870.1 1091.0L871.5 1175.5L873.7 1029.1L875.1 1147.8L876.5 1072.9L878.3 1155.7L878.8 1117.8L879.4 1184.5L881.1 993.6L883.1 1164.3L884.7 959.8L886.2 1157.8L886.8 1113.3L887.5 1158.6L888.2 1081.9L889.3 1142.8L890.6 1100.5L891.2 1134.5L891.8 1084.9L893.0 1163.8L895.0 1071.4L896.4 1231.4L898.3 1092.9L898.8 1160.7L899.3 1091.0L901.3 1155.7L902.8 1057.8L904.2 1240.3L906.3 949.2L908.1 1151.6L910.6 1048.7L911.3 1252.7L913.3 1097.4L914.1 1142.6L914.9 1063.8L916.5 1154.7L917.8 1123.1L918.8 1220.8L919.8 1020.2L921.3 1140.1L922.4 1104.0L924.1 1220.8L924.8 1100.0L926.9 1186.0L927.7 998.9L929.5 1143.4L931.2 991.8L932.4 1134.3L933.7 1117.8L934.2 1158.5L934.7 995.3L934.7 1154.4L936.0 1103.0L937.2 1159.8L938.3 994.4L940.1 1215.4L941.8 1007.8L943.6 1215.4L945.4 1006.5L947.1 1154.1L949.0 1042.7L951.4 1160.4L952.5 1074.4L954.2 1157.7L956.0 1051.7L958.5 1161.9L961.0 1069.9L963.2 1160.4L964.5 1102.9L965.6 1146.9L966.7 1087.9L967.4 1211.9L968.6 1091.4L970.1 1138.9L971.7 1006.0L972.7 1139.2L974.5 1020.0L976.3 1139.2L977.4 942.1L979.3 1152.9L981.1 1111.1L982.3 1140.6L983.6 990.0L987.1 1165.7L987.8 1057.8L990.2 1120.4L992.5 1087.9L992.5 1206.6L996.0 986.5L997.1 1127.2L999.6 975.8L1003.1 1181.7L1004.2 919.0L1007.7 1154.4L1008.4 1060.8L1011.3 1166.4L1012.7 1048.7L1015.6 1154.4L1017.3 1080.4L1019.1 1158.9L1021.9 982.3L1023.3 1125.7L1025.5 823.1L1029.0 1125.7L1029.8 1044.2L1031.5 1117.7L1033.3 1048.6L1034.0 1169.3L1037.5 1074.4L1038.6 1130.2L1042.2 1062.3L1042.2 1134.7L1045.7 1095.5L1049.3 1142.3L1049.6 1041.5L1053.5 1154.4L1053.9 1087.9L1057.4 1222.5L1057.8 1044.2L1059.8 1113.3L1061.7 1061.0L1061.7 1149.8L1065.6 1048.7L1066.0 1131.7L1069.5 1042.7L1069.9 1131.7L1073.4 1018.5L1073.8 1119.6L1077.3 1008.0L1077.7 1127.2L1081.2 945.6L1083.4 1124.0L1085.5 1013.1L1085.5 1220.8L1089.4 1092.5L1089.4 1140.7L1093.3 972.3L1093.7 1130.2L1097.2 1032.1L1097.2 1176.4L1101.5 1069.9L1101.8 1180.0L1103.6 1077.0L1105.4 1211.9L1105.7 1072.9L1107.5 1112.6L1109.3 1059.2L1109.3 1208.3L1113.2 956.3L1113.2 1137.7L1117.1 910.1L1117.1 1106.1L1121.0 919.0L1121.0 1115.1L1124.9 947.4L1124.9 1124.2L1129.2 1014.0L1129.2 1139.2L1133.1 984.7L1133.1 1137.7L1135.0 1104.3L1137.0 1139.2L1137.3 1006.0L1139.1 1119.2L1140.9 1072.9L1140.9 1215.4L1144.8 1039.7L1144.8 1204.8L1148.7 974.0L1148.7 1149.8L1152.6 1060.8L1152.6 1227.9L1156.5 924.3L1156.5 1146.8L1160.8 1053.3L1160.8 1142.3L1164.7 938.5L1164.7 1125.7L1168.6 991.8L1168.6 1137.7L1172.5 991.8L1172.5 1229.6L1176.4 1022.0L1176.4 1151.3L1180.3 1024.6L1180.3 1143.8L1184.2 1057.8L1184.2 1130.2L1188.1 982.9L1188.1 1181.7L1190.0 1060.9L1192.0 1127.2L1192.4 1011.0L1194.1 1128.5L1195.9 1025.5L1195.9 1139.2L1199.8 1057.8L1199.8 1204.8L1203.7 1042.7L1204.1 1265.2L1208.0 1029.1L1208.0 1233.2L1211.9 917.2L1211.9 1190.6L1215.8 913.7L1216.2 1148.3L1220.1 1044.2L1220.1 1137.7L1223.6 1002.4L1223.6 1211.9L1227.5 1006.5L1227.5 1163.4L1231.8 1018.4L1231.8 1151.3L1235.7 1057.8L1235.7 1177.0L1239.6 1072.9L1239.6 1227.9L1243.5 1078.9L1243.5 1174.0L1247.4 1056.3L1247.4 1187.5L1249.4 1099.5L1251.3 1151.3L1251.7 1083.4L1253.4 1150.5L1255.2 926.1L1255.2 1176.4L1259.1 963.4L1259.1 1176.4L1263.0 963.4L1263.0 1146.8L1266.9 1047.2L1266.9 1136.2L1271.2 1065.3L1271.2 1139.2L1275.1 1077.4L1275.1 1151.3L1279.4 1027.3L1279.4 1164.9L1282.9 1047.2L1282.9 1174.6L1287.2 1059.2L1287.2 1161.9L1291.1 1065.3L1291.1 1277.6L1295.0 1044.2L1295.0 1169.4L1298.5 1057.8L1298.9 1186.0L1302.5 1032.6L1302.8 1149.8L1306.7 966.9L1306.7 1122.7L1310.6 1030.6L1310.6 1091.0L1314.5 970.5L1314.5 1097.0L1318.4 986.5L1318.4 1124.2"/>
</g>
<rect x="626.6" y="748.3" width="711.8" height="572.5" fill="none" stroke="#000" stroke-width="3"/>
<path d="M615.4 1320.8H626.6M615.4 1225.4H626.6M615.4 1130.0H626.6M615.4 1034.5H626.6M615.4 939.1H626.6M615.4 843.7H626.6M615.4 748.3H626.6M621.0 1273.1H626.6M621.0 1177.7H626.6M621.0 1082.3H626.6M621.0 986.8H626.6M621.0 891.4H626.6M621.0 796.0H626.6M626.6 1320.8V1332.0M666.1 1320.8V1326.4M705.7 1320.8V1332.0M745.2 1320.8V1326.4M784.8 1320.8V1332.0M824.3 1320.8V1326.4M863.9 1320.8V1332.0M903.4 1320.8V1326.4M943.0 1320.8V1332.0M982.5 1320.8V1326.4M1022.0 1320.8V1332.0M1061.6 1320.8V1326.4M1101.1 1320.8V1332.0M1140.7 1320.8V1326.4M1180.2 1320.8V1332.0M1219.8 1320.8V1326.4M1259.3 1320.8V1332.0M1298.9 1320.8V1326.4M1338.4 1320.8V1332.0" stroke="#000" stroke-width="3" fill="none"/>
<g font-family='"Liberation Serif", "Noto Serif CJK SC", serif' font-size="25.3" fill="#000">
<text x="607.3" y="1327.9" text-anchor="end">-10000</text>
<text x="607.3" y="1232.5" text-anchor="end">-5000</text>
<text x="607.3" y="1137.1" text-anchor="end">0</text>
<text x="607.3" y="1041.6" text-anchor="end">5000</text>
<text x="607.3" y="946.2" text-anchor="end">10000</text>
<text x="607.3" y="850.8" text-anchor="end">15000</text>
<text x="607.3" y="755.4" text-anchor="end">20000</text>
<text x="626.6" y="1358.1" text-anchor="middle">0</text>
<text x="705.7" y="1358.1" text-anchor="middle">2</text>
<text x="784.8" y="1358.1" text-anchor="middle">4</text>
<text x="863.9" y="1358.1" text-anchor="middle">6</text>
<text x="943.0" y="1358.1" text-anchor="middle">8</text>
<text x="1022.0" y="1358.1" text-anchor="middle">10</text>
<text x="1101.1" y="1358.1" text-anchor="middle">12</text>
<text x="1180.2" y="1358.1" text-anchor="middle">14</text>
<text x="1259.3" y="1358.1" text-anchor="middle">16</text>
<text x="1338.4" y="1358.1" text-anchor="middle">18</text>
</g>
<text x="658.4" y="812.8" font-family='"Liberation Serif", "Noto Serif CJK SC", serif' font-style="italic" font-size="54.5">Fz</text>
<rect x="1044.2" y="755.3" width="283.4" height="77.3" fill="#fff" stroke="#555" stroke-width="1.6"/>
<path d="M1049.9 774.9H1106.4" stroke="#0000FF" stroke-width="3.3" stroke-linecap="round"/>
<path d="M1049.9 811.7H1106.4" stroke="#EF4040" stroke-width="3.3" stroke-linecap="round"/>
<g font-family='"Liberation Serif", "Noto Serif CJK SC", serif' font-size="24.35"><text x="1122.4" y="785.9">Simulated values</text><text x="1122.4" y="821.9">Experimental values</text></g>
<text transform="translate(508.5 1064.0) rotate(-90)" font-family='"Liberation Serif", "Noto Serif CJK SC", serif' font-size="30"><tspan font-style="italic">Fz</tspan><tspan dx="-7">（N）</tspan></text>
<text x="921.2" y="1405.1" font-family='"Liberation Serif", "Noto Serif CJK SC", serif' font-size="30"><tspan font-style="italic">time</tspan>（s）</text>
</svg></body></html>
